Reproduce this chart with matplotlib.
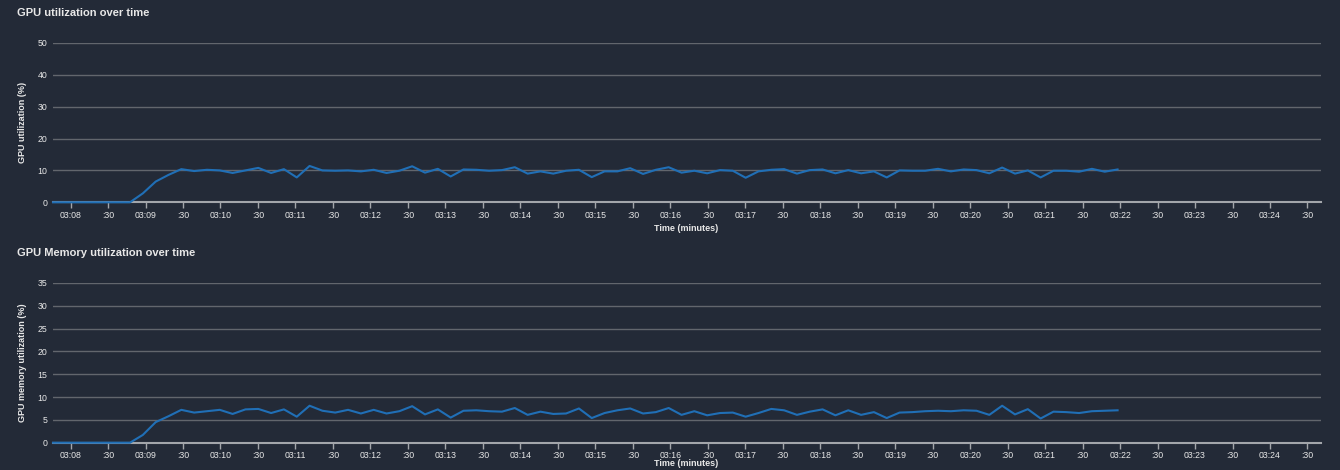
import numpy as np
import matplotlib
matplotlib.use('Agg')
import matplotlib.pyplot as plt
from matplotlib.ticker import MultipleLocator, FuncFormatter

plt.rcParams['font.family'] = ['Liberation Sans', 'DejaVu Sans']

# sample times (seconds after 03:00), first and last sample
t_first = 7 * 60 + 46
t_last = 21 * 60 + 58

gpu_util = [0, 0, 0, 0, 0, 0, 0,
            2.8, 6.5, 8.6, 10.4, 9.8, 10.2, 10.0, 9.2, 10.0, 10.8,
            9.2, 10.4, 7.8, 11.4, 10.0, 9.9, 10.0, 9.7, 10.2, 9.2,
            9.9, 11.3, 9.3, 10.5, 8.1,
            10.3, 10.2, 9.9, 10.1, 11.0, 9.0, 9.7, 9.0, 9.9, 10.2,
            7.9, 9.7, 9.7, 10.7, 8.9, 10.2, 11.0, 9.3, 9.9, 9.1,
            10.1, 9.9, 7.7, 9.7, 10.2, 10.4, 9.0, 10.1, 10.3, 9.1,
            10.1, 9.1, 9.7, 7.8,
            10.0, 9.9, 9.9, 10.5, 9.7, 10.3, 10.1, 9.1, 10.9, 9.0,
            10.0, 7.8, 9.9, 9.9, 9.6, 10.5, 9.6, 10.3]

gpu_mem = [0, 0, 0, 0, 0, 0, 0,
           1.7, 4.5, 5.8, 7.2, 6.6, 6.9, 7.2, 6.3, 7.3, 7.4,
           6.5, 7.3, 5.7, 8.1, 7.0, 6.6, 7.2, 6.4, 7.2, 6.4,
           6.9, 8.0, 6.2, 7.3, 5.5,
           7.0, 7.1, 6.9, 6.8, 7.6, 6.1, 6.8, 6.3, 6.4, 7.5,
           5.4, 6.5, 7.1, 7.5, 6.4, 6.7, 7.6, 6.1, 6.9, 6.0,
           6.5, 6.6, 5.7, 6.5, 7.4, 7.1, 6.1, 6.8, 7.3, 6.0,
           7.1, 6.1, 6.7, 5.4,
           6.6, 6.7, 6.9, 7.0, 6.9, 7.1, 7.0, 6.1, 8.1, 6.2,
           7.35, 5.3, 6.8, 6.7, 6.5, 6.9, 7.0, 7.1]

times = np.linspace(t_first, t_last, len(gpu_util))

x_end = 24 * 60 + 41

bg = '#232a37'
grid_c = '#62666d'
axis_c = '#a3a6ab'
text_c = '#e8e8e8'
line_c = '#206fb6'


def time_fmt(x, pos):
    s = int(round(x))
    if s % 60 == 0:
        return '03:{:02d}'.format(s // 60)
    return ':30'


fig = plt.figure(figsize=(13.4, 4.7), dpi=100, facecolor=bg)

panels = [
    # (axes rect, series, ylim top, y step, title, ylabel, title y, xlabel y)
    ([0.0396, 0.5696, 0.9464, 0.339], gpu_util, 50, 10,
     'GPU utilization over time', 'GPU utilization (%)', 0.973, 0.514),
    ([0.0396, 0.0581, 0.9464, 0.3398], gpu_mem, 35, 5,
     'GPU Memory utilization over time', 'GPU memory utilization (%)', 0.461, 0.013),
]

for rect, vals, ytop, ystep, title, ylabel, ty, xly in panels:
    ax = fig.add_axes(rect)
    ax.set_facecolor(bg)
    ax.plot(times, vals, '-', color=line_c, lw=1.5, zorder=3, clip_on=False)
    ax.set_xlim(t_first, x_end)
    ax.set_ylim(0, ytop)

    ax.xaxis.set_major_locator(MultipleLocator(30))
    ax.xaxis.set_major_formatter(FuncFormatter(time_fmt))
    ax.yaxis.set_major_locator(MultipleLocator(ystep))

    for side in ['top', 'right', 'left']:
        ax.spines[side].set_visible(False)
    ax.spines['bottom'].set_color(axis_c)
    ax.spines['bottom'].set_linewidth(1.5)

    ax.yaxis.grid(True, color=grid_c, lw=1.0)
    ax.set_axisbelow(True)

    ax.tick_params(axis='x', colors=axis_c, length=4, width=1, pad=2,
                   labelsize=6.3, labelcolor=text_c)
    ax.tick_params(axis='y', length=0, pad=4, labelsize=6.3, labelcolor=text_c)

    ax.set_ylabel(ylabel, color=text_c, fontsize=6.5, fontweight='bold', labelpad=8)
    fig.text(0.0127, ty, title, color=text_c, fontsize=8, fontweight='bold',
             ha='left', va='center')
    fig.text(0.512, xly, 'Time (minutes)', color=text_c, fontsize=6.5,
             fontweight='bold', ha='center', va='center')

fig.savefig('out.png', dpi=100, facecolor=bg)
